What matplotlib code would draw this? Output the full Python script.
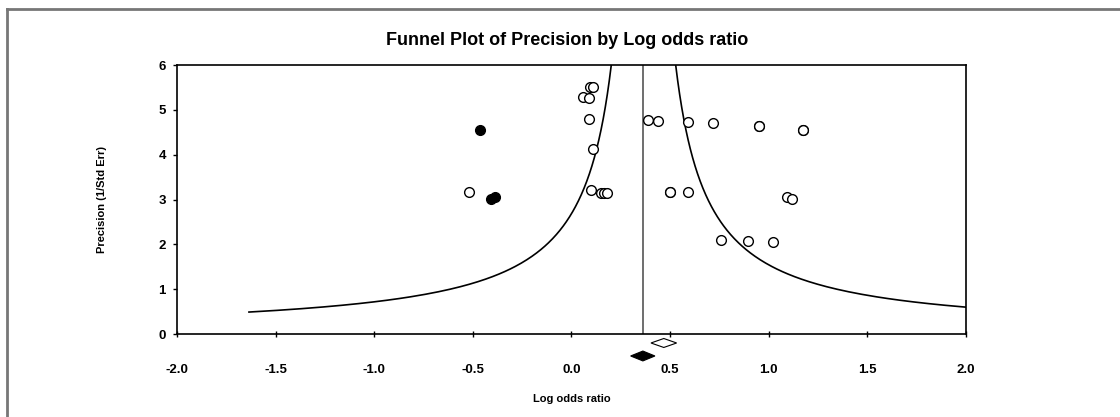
"""
Funnel plot of precision by log odds ratio, with observed and imputed
studies and the two summary diamonds under the axis.
"""

import numpy as np
import matplotlib
matplotlib.use("Agg")
import matplotlib.pyplot as plt
from matplotlib.patches import Polygon
from matplotlib.lines import Line2D

plt.rcParams['font.family'] = ['Liberation Sans', 'DejaVu Sans']
plt.rcParams['font.weight'] = 'bold'

# observed studies (open circles)
obs_lor = [-0.52, 0.094, 0.107, 0.057, 0.089, 0.09, 0.107, 0.10,
           0.15, 0.167, 0.178, 0.39, 0.44, 0.592, 0.716, 0.952, 0.952,
           1.172, 1.172, 0.50, 0.50, 0.589, 1.094, 1.12, 0.757, 0.893,
           1.02]
obs_prec = [3.17, 5.52, 5.52, 5.29, 5.27, 4.80, 4.13, 3.21,
            3.14, 3.14, 3.14, 4.77, 4.76, 4.74, 4.71, 4.64, 4.64,
            4.56, 4.56, 3.17, 3.17, 3.17, 3.06, 3.01, 2.09, 2.07,
            2.05]

# imputed studies (filled circles)
imp_lor = [-0.464, -0.41, -0.386]
imp_prec = [4.55, 3.01, 3.06]

# summary effects: observed (open diamond) and adjusted (filled diamond)
obs_est, obs_lo, obs_hi = 0.468, 0.403, 0.533
adj_est, adj_lo, adj_hi = 0.362, 0.300, 0.423
funnel_centre = 0.365
funnel_k = 0.98
prec_min = 0.49

xticks = [-2.0, -1.5, -1.0, -0.5, 0.0, 0.5, 1.0, 1.5, 2.0]
yticks = [0, 1, 2, 3, 4, 5, 6]

fig = plt.figure(figsize=(11.2, 4.17), dpi=100)
ax = fig.add_axes([0.158, 0.199, 0.7045, 0.645])

# funnel limits
p = np.linspace(prec_min, 8, 400)
ax.plot(funnel_centre - funnel_k / p, p, color='black', lw=1.2)
ax.plot(funnel_centre + funnel_k / p, p, color='black', lw=1.2)
ax.axvline(funnel_centre, color='#555555', lw=1.2)

ax.plot(obs_lor, obs_prec, linestyle='none', marker='o', ms=7,
        mfc='white', mec='black', mew=1.0)
ax.plot(imp_lor, imp_prec, linestyle='none', marker='o', ms=7,
        mfc='black', mec='black', mew=1.0)

# diamonds below the axis
d1 = Polygon([[obs_lo, -0.2], [obs_est, -0.1], [obs_hi, -0.2],
              [obs_est, -0.3]], closed=True, fc='white', ec='black',
             lw=0.8, clip_on=False)
d2 = Polygon([[adj_lo, -0.49], [adj_est, -0.38], [adj_hi, -0.49],
              [adj_est, -0.60]], closed=True, fc='black', ec='black',
             lw=0.8, clip_on=False)
ax.add_patch(d1)
ax.add_patch(d2)

ax.set_xlim(-2.0, 2.0)
ax.set_ylim(0, 6)
ax.set_xticks(xticks)
ax.set_xticklabels(['%.1f' % t for t in xticks])
ax.set_yticks(yticks)
ax.tick_params(axis='x', direction='inout', length=5, pad=19,
               labelsize=9.5, width=1)
ax.tick_params(axis='y', direction='out', length=3, pad=5,
               labelsize=9.5, width=1)
for s in ax.spines.values():
    s.set_linewidth(1.2)

ax.set_xlabel('Log odds ratio', fontsize=8, fontweight='bold', labelpad=13)
ax.set_ylabel('Precision (1/Std Err)', fontsize=8, fontweight='bold',
              labelpad=37)
fig.text(0.506, 0.904, 'Funnel Plot of Precision by Log odds ratio',
         ha='center', va='center', fontsize=13, fontweight='bold')

# grey frame around the figure
fig.add_artist(Line2D([7 / 1120, 7 / 1120], [0, 1 - 9 / 417],
                      transform=fig.transFigure, color='#777777', lw=2))
fig.add_artist(Line2D([7 / 1120, 1], [1 - 9 / 417, 1 - 9 / 417],
                      transform=fig.transFigure, color='#777777', lw=2))

fig.savefig('out.png', dpi=100)
